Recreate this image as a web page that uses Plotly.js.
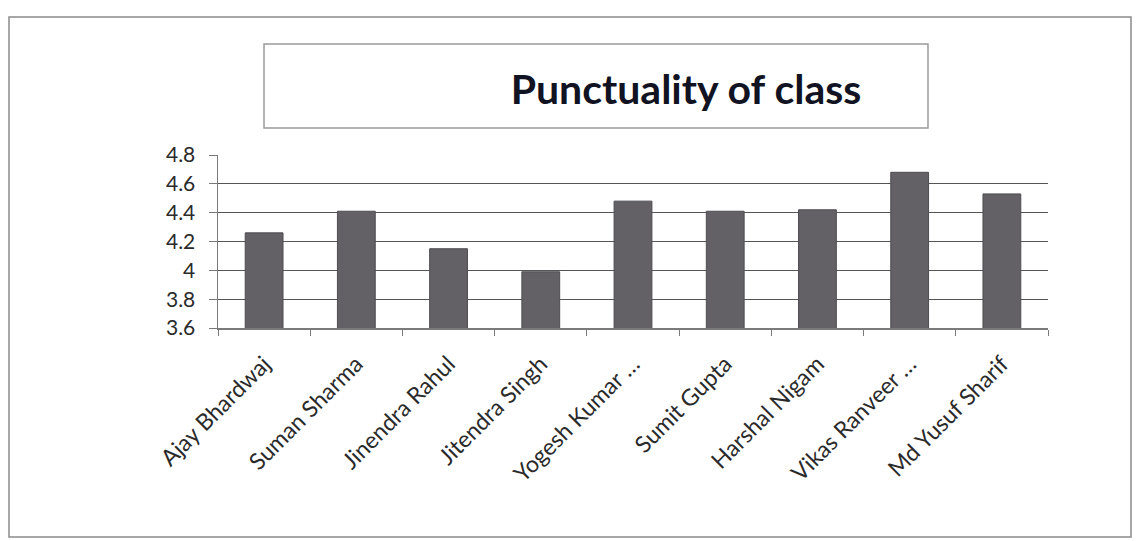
<!DOCTYPE html>
<html>
<head>
<meta charset="utf-8">
<script src="https://cdn.plot.ly/plotly-3.0.1.min.js"></script>
<style>
html,body{margin:0;padding:0;background:#fff;}
#chart{width:1136px;height:541px;}
</style>
</head>
<body>
<div id="chart"></div>
<script>
// Data
var categories = ["Ajay Bhardwaj", "Suman Sharma", "Jinendra Rahul", "Jitendra Singh", "Yogesh Kumar \u2026", "Sumit Gupta", "Harshal Nigam", "Vikas Ranveer \u2026", "Md Yusuf Sharif"];
var values = [4.26, 4.41, 4.15, 3.99, 4.48, 4.41, 4.42, 4.68, 4.53];
var yTickVals = [3.6, 3.8, 4.0, 4.2, 4.4, 4.6, 4.8];
var yTickText = ["3.6", "3.8", "4", "4.2", "4.4", "4.6", "4.8"];
var chartTitle = "Punctuality of class";

// Layout geometry (pixels)
var W = 1136, H = 541;
var L = 218, R = 1048, T = 155, B = 328;
function px(x){ return (x - L) / (R - L); }
function py(y){ return (B - y) / (B - T); }

var trace = {
  type: "bar",
  x: categories,
  y: values,
  marker: {color: "#636166", line: {color: "#4f4d52", width: 1}},
  hoverinfo: "x+y"
};

var layout = {
  width: W, height: H,
  margin: {l: L, r: W - R, t: T, b: H - B, pad: 0},
  paper_bgcolor: "#ffffff",
  plot_bgcolor: "#ffffff",
  showlegend: false,
  bargap: 0.59,
  font: {family: "Lato, 'Open Sans', sans-serif", color: "#2a2a2a"},
  title: {
    text: "<b>" + chartTitle + "</b>",
    font: {family: "Lato, 'Open Sans', sans-serif", size: 41, color: "#111322"},
    xref: "container", yref: "container",
    x: 686 / W, xanchor: "center",
    y: 1 - 90 / H, yanchor: "middle"
  },
  xaxis: {
    type: "category",
    showgrid: false,
    showline: true, linecolor: "#7a7a7a", linewidth: 1.5,
    ticks: "outside", tickson: "boundaries", ticklen: 6, tickcolor: "#7a7a7a", tickwidth: 1,
    tickangle: -45,
    tickfont: {family: "Lato, 'Open Sans', sans-serif", size: 23, color: "#2a2a2a"},
    ticklabelstandoff: 12,
    fixedrange: true
  },
  yaxis: {
    range: [3.6, 4.8],
    tickvals: yTickVals,
    ticktext: yTickText,
    showgrid: true, gridcolor: "#555555", gridwidth: 1.2,
    showline: true, linecolor: "#7a7a7a", linewidth: 1.5,
    ticks: "outside", ticklen: 8, tickcolor: "#7a7a7a", tickwidth: 1,
    tickfont: {family: "Lato, 'Open Sans', sans-serif", size: 21, color: "#2a2a2a"},
    ticklabelstandoff: 9,
    zeroline: false,
    fixedrange: true
  },
  shapes: [
    {type: "rect", xref: "paper", yref: "paper",
     x0: px(9), x1: px(1131), y0: py(537), y1: py(17),
     line: {color: "#8a8a8a", width: 1.5}, fillcolor: "rgba(0,0,0,0)", layer: "below"},
    {type: "rect", xref: "paper", yref: "paper",
     x0: px(264), x1: px(928), y0: py(128), y1: py(44),
     line: {color: "#9a9a9a", width: 1.5}, fillcolor: "rgba(0,0,0,0)", layer: "below"}
  ]
};

Plotly.newPlot("chart", [trace], layout, {displayModeBar: false, staticPlot: true});
</script>
</body>
</html>
